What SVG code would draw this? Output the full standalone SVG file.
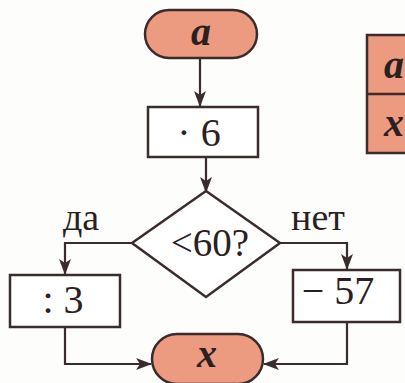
<svg xmlns="http://www.w3.org/2000/svg" width="405" height="383" viewBox="0 0 405 383">
<style>
.s{stroke:#3a2c2c;stroke-width:2.5;}
.term{fill:#ec9a80;}
.box{fill:#ffffff;}
.ln{fill:none;stroke:#3a2c2c;stroke-width:2.2;}
</style>
<defs>
<marker id="ah" viewBox="0 0 16 12" refX="15" refY="6" markerWidth="16" markerHeight="12" markerUnits="userSpaceOnUse" orient="auto">
<path d="M0,0 L16,6 L0,12 L4,6 Z" fill="#3a2c2c"/>
</marker>
</defs>
<rect width="405" height="383" fill="#fdfdfb"/>
<g id="connectors">
<line class="ln" x1="200" y1="58" x2="200" y2="106" marker-end="url(#ah)"/>
<line class="ln" x1="206" y1="157" x2="206" y2="192" marker-end="url(#ah)"/>
<polyline class="ln" points="132,243 65,243 65,274" marker-end="url(#ah)"/>
<polyline class="ln" points="280,243 347,243 347,269" marker-end="url(#ah)"/>
<polyline class="ln" points="65,327 65,364 151,364" marker-end="url(#ah)"/>
<polyline class="ln" points="347,322 347,364 264,364" marker-end="url(#ah)"/>
</g>
<g font-family="Liberation Serif, DejaVu Serif, serif" fill="#2a2020" text-anchor="middle">
<g id="start">
<rect class="s term" x="145" y="10" width="112" height="48" rx="24"/>
<text x="201" y="45" font-size="40" font-weight="bold" font-style="italic" fill="#2a2020">a</text>
</g>
<g id="mul6">
<rect class="s box" x="148" y="107" width="110" height="50"/>
<text x="199" y="146" font-size="40" fill="#2a2020">· 6</text>
</g>
<g id="cond">
<polygon class="s box" points="206,191 280,243 206,297 132,243"/>
<text x="210" y="256" font-size="39" fill="#2a2020">&lt;60?</text>
</g>
<g id="lbl-yes"><text x="81" y="230" font-size="38" fill="#2a2020">да</text></g>
<g id="lbl-no"><text x="318" y="230" font-size="38" fill="#2a2020">нет</text></g>
<g id="div3">
<rect class="s box" x="10" y="275" width="110" height="52"/>
<text x="63" y="313" font-size="40" fill="#2a2020">: 3</text>
</g>
<g id="minus57">
<rect class="s box" x="293" y="270" width="107" height="52"/>
<text x="338" y="304" font-size="40" fill="#2a2020">− 57</text>
</g>
<g id="end">
<rect class="s term" x="152" y="334" width="111" height="50" rx="25"/>
<text x="207" y="367" font-size="40" font-weight="bold" font-style="italic" fill="#2a2020">x</text>
</g>
<g id="table">
<rect class="s term" x="367" y="35" width="50" height="118"/>
<line class="s" x1="367" y1="94" x2="417" y2="94"/>
<text x="394" y="78" font-size="40" font-weight="bold" font-style="italic" fill="#2a2020">a</text>
<text x="394" y="136" font-size="40" font-weight="bold" font-style="italic" fill="#2a2020">x</text>
</g>
</g>
</svg>
